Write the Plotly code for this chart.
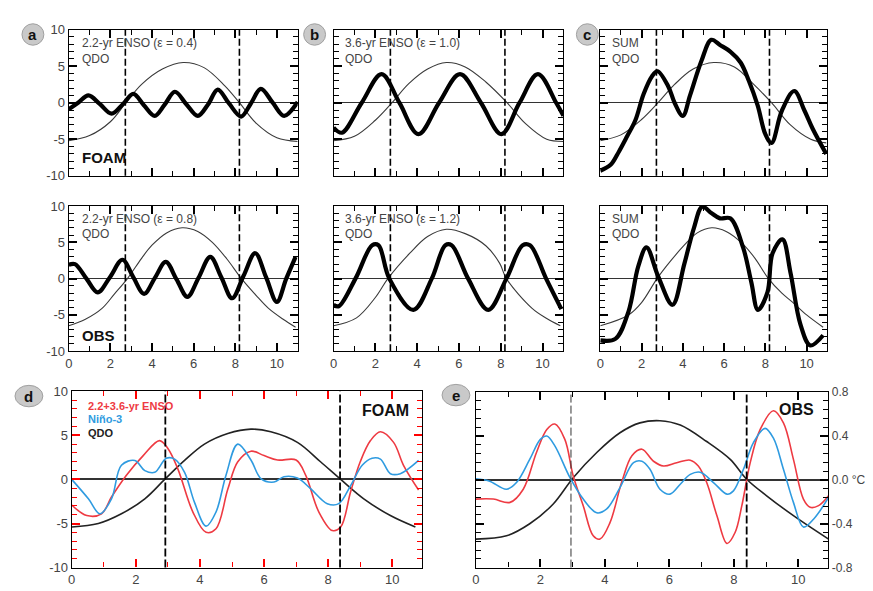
import plotly.graph_objects as go

# ---------------- DATA ----------------
a1_enso_x = [0, 0.45, 0.95, 1.5, 2.06, 2.6, 3.1, 3.6, 4.13, 4.6, 5.1, 5.65, 6.2, 6.7, 7.16, 7.7, 8.28, 8.75, 9.23, 9.8, 10.35, 11.0]
a1_enso_y = [-0.9, 0.0, 1.0, -0.2, -1.5, -0.2, 1.2, -0.3, -1.8, -0.3, 1.5, -0.2, -1.8, -0.2, 1.8, -0.1, -1.9, -0.1, 1.9, 0.0, -1.8, 0.1]
a1_qdo_x = [0, 1, 2, 2.75, 3.5, 4.5, 5.5, 6.5, 7.5, 8.2, 9, 10, 11]
a1_qdo_y = [-5.2, -4.5, -2.6, 0, 2.5, 4.6, 5.5, 4.8, 2.3, 0, -2.8, -4.8, -5.3]

b1_enso_x = [0, 0.4, 1.35, 2.3, 3.15, 4.06, 5.05, 6.05, 7.05, 8.03, 8.9, 9.78, 10.65, 11.0]
b1_enso_y = [-3.4, -4.1, 0, 3.9, 0, -4.3, 0, 3.9, 0, -4.3, 0, 3.9, 0, -1.8]
b1_qdo_x = [0, 1, 2, 2.8, 3.6, 4.5, 5.4, 6.3, 7.3, 8.3, 9.2, 10.2, 11]
b1_qdo_y = [-5.2, -4.6, -2.4, 0, 2.6, 4.6, 5.5, 4.9, 2.8, 0, -2.9, -5.0, -5.3]

c1_sum_x = [0, 0.5, 0.9, 1.3, 1.7, 2.1, 2.5, 2.77, 3.3, 3.6, 4.0, 4.35, 4.9, 5.38, 5.8, 6.3, 6.8, 7.2, 7.63, 8.0, 8.3, 8.8, 9.4, 9.9, 10.3, 10.95]
c1_sum_y = [-9.3, -8.5, -6.7, -4.6, -2.4, 1.2, 3.6, 4.3, 2.2, 0.0, -1.8, 1.0, 5.7, 8.6, 7.9, 7.0, 5.5, 3.0, -0.4, -4.3, -5.5, -1.1, 1.6, -1.1, -3.6, -7.0]
c1_qdo_x = [0, 1, 2, 2.8, 3.6, 4.5, 5.5, 6.5, 7.4, 8.3, 9.2, 10.2, 10.95]
c1_qdo_y = [-5.2, -4.4, -2.3, 0, 2.5, 4.6, 5.5, 4.9, 2.6, 0, -3.0, -5.0, -5.5]

a2_enso_x = [0, 0.3, 0.85, 1.39, 1.98, 2.58, 3.1, 3.62, 4.14, 4.66, 5.18, 5.7, 6.25, 6.8, 7.33, 7.85, 8.4, 8.96, 9.48, 10.0, 10.45, 10.9]
a2_enso_y = [1.9, 2.0, 0, -1.9, 0.2, 2.6, 0.2, -2.1, 0.1, 2.3, -0.1, -2.5, 0.2, 3.0, 0.2, -2.7, 0.4, 3.5, 0.2, -3.2, 0, 3.0]
a2_qdo_x = [0, 0.8, 1.6, 2.2, 2.82, 3.5, 4.0, 4.7, 5.45, 6.2, 6.9, 7.6, 8.3, 9.0, 9.6, 10.3, 10.9]
a2_qdo_y = [-6.5, -5.6, -4.1, -2.1, 0, 2.8, 4.6, 6.3, 7.0, 6.5, 5.0, 2.7, 0, -2.3, -4.1, -5.6, -6.7]

b2_enso_x = [0, 0.25, 1.05, 1.85, 2.15, 2.67, 3.82, 4.7, 5.35, 5.65, 6.44, 7.4, 8.27, 9.05, 9.4, 10.17, 10.9]
b2_enso_y = [-3.6, -3.8, 0, 4.6, 4.6, 0, -4.3, 0, 4.6, 4.6, 0, -4.3, 0, 4.6, 4.6, 0, -4.2]
b2_qdo_x = [0, 1.1, 2.0, 2.6, 3.65, 4.5, 5.4, 6.3, 7.3, 7.95, 8.27, 9.5, 10.2, 10.85]
b2_qdo_y = [-6.5, -5.4, -2.6, 0, 3.5, 5.8, 6.8, 6.2, 4.5, 2.1, 0, -4.1, -5.5, -6.5]

c2_sum_x = [0, 0.73, 1.37, 1.84, 2.24, 2.8, 3.5, 4.07, 4.54, 4.94, 5.4, 5.8, 6.3, 6.92, 7.32, 7.64, 8.1, 8.35, 8.83, 9.22, 9.7, 10.18, 10.8]
c2_sum_y = [-8.5, -8.3, -4.5, 1.7, 4.3, 0.35, -3.6, 2.0, 7.0, 9.9, 9.0, 8.3, 8.3, 4.3, -0.5, -4.3, -1.9, 3.5, 5.4, 0.8, -6.3, -9.2, -7.8]
c2_qdo_x = [0, 1.37, 2.0, 2.75, 3.4, 4.07, 4.7, 5.4, 6.1, 6.9, 7.5, 8.15, 8.8, 9.3, 10.0, 10.8]
c2_qdo_y = [-6.5, -5.0, -3.3, 0, 2.4, 4.6, 6.3, 7.0, 6.5, 4.8, 2.8, 0, -2.0, -3.2, -5.0, -6.7]

d_enso_x = [0, 0.47, 0.93, 1.24, 1.7, 2.23, 2.74, 3.0, 3.31, 3.78, 4.19, 4.5, 4.87, 5.18, 5.59, 6.0, 6.42, 7.0, 7.3, 7.71, 8.13, 8.39, 8.7, 9.0, 9.32, 9.63, 10.04, 10.35, 10.82]
d_enso_y = [-2.9, -4.1, -3.9, -2.0, 0.45, 2.7, 4.4, 3.5, 1.2, -3.7, -6.0, -5.6, -1.1, 2.0, 3.2, 2.7, 2.2, 2.2, 0.45, -3.7, -5.8, -5.4, -1.4, 2.0, 4.4, 5.4, 4.2, 1.6, -1.2]
d_nino_x = [0, 0.52, 0.88, 1.24, 1.55, 1.97, 2.28, 2.59, 2.95, 3.21, 3.52, 3.83, 4.19, 4.5, 4.81, 5.18, 5.59, 5.9, 6.31, 6.62, 7.04, 7.45, 7.97, 8.33, 8.7, 9.06, 9.37, 9.63, 9.94, 10.25, 10.82]
d_nino_y = [0, -2.2, -3.9, -2.2, 1.6, 2.15, 1.0, 0.8, 2.4, 2.3, 0.8, -2.6, -5.3, -3.7, 0.45, 4.0, 2.2, 0.1, -0.3, 0.3, 0.15, -1.05, -2.75, -2.75, -0.7, 1.6, 2.4, 2.3, 0.65, 0.65, 2.15]
d_qdo_x = [0, 0.83, 1.55, 2.28, 2.9, 3.52, 4.14, 4.87, 5.59, 6.21, 7.04, 7.76, 8.39, 9.11, 9.94, 10.72]
d_qdo_y = [-5.4, -5.0, -3.9, -2.2, 0, 2.15, 4.0, 5.2, 5.7, 5.4, 4.2, 2.0, 0, -2.2, -4.1, -5.4]

e_enso_x = [0, 0.54, 1.06, 1.47, 1.88, 2.2, 2.45, 2.76, 3.02, 3.33, 3.64, 3.85, 4.16, 4.52, 4.84, 5.15, 5.51, 5.82, 6.23, 6.65, 6.9, 7.16, 7.48, 7.79, 8.04, 8.25, 8.51, 8.82, 9.23, 9.54, 9.85, 10.16, 10.37, 10.63, 10.94]
e_enso_y = [-0.175, -0.175, -0.205, -0.085, 0.25, 0.46, 0.51, 0.37, 0.036, -0.235, -0.51, -0.54, -0.39, -0.024, 0.22, 0.28, 0.17, 0.127, 0.157, 0.18, 0.127, -0.024, -0.33, -0.58, -0.48, -0.235, 0.157, 0.46, 0.63, 0.52, 0.187, -0.175, -0.25, -0.235, -0.145]
e_nino_x = [0, 0.41, 0.95, 1.26, 1.67, 2.0, 2.2, 2.45, 2.92, 3.33, 3.75, 4.06, 4.47, 4.89, 5.15, 5.4, 5.71, 6.02, 6.34, 6.65, 6.96, 7.37, 7.79, 7.99, 8.3, 8.61, 8.97, 9.23, 9.54, 9.85, 10.16, 10.48, 10.94]
e_nino_y = [0.01, -0.01, -0.085, -0.024, 0.187, 0.37, 0.4, 0.31, 0.02, -0.175, -0.3, -0.265, -0.07, 0.157, 0.17, 0.097, -0.085, -0.13, -0.04, 0.05, 0.07, -0.024, -0.13, -0.1, 0.097, 0.34, 0.47, 0.38, 0.097, -0.205, -0.43, -0.356, -0.16]
e_qdo_x = [0, 0.95, 1.67, 2.4, 3.02, 3.75, 4.47, 5.09, 5.71, 6.34, 7.16, 7.89, 8.4, 9.02, 9.85, 10.94]
e_qdo_y = [-0.54, -0.51, -0.4, -0.22, 0.02, 0.25, 0.43, 0.52, 0.54, 0.5, 0.35, 0.187, 0.006, -0.145, -0.326, -0.54]

top_marks = [2.72, 8.2]
d_marks = [2.92, 8.37]
e_marks = [2.95, 8.4]

y_vals = [-10, -5, 0, 5, 10]
y_text = ["-10", "-5", "0", "5", "10"]
x_vals = [0, 2, 4, 6, 8, 10]
x_text = ["0", "2", "4", "6", "8", "10"]
e_vals = [-0.8, -0.4, 0.0, 0.4, 0.8]
e_text = ["-0.8", "-0.4", "0.0 °C", "0.4", "0.8"]

# ---------------- LAYOUT ----------------
W, H = 873, 591
FONT = "Liberation Sans, Arial, Helvetica, sans-serif"
RED = "#ee3a42"
BLUE = "#2f9be0"


def px_x(p):
    return p / W


def px_y(p):
    return 1 - p / H


fig = go.Figure()

panels = {
    "a1": (57, 287, 15, 165),
    "b1": (323, 554, 15, 165),
    "c1": (591, 819, 15, 165),
    "a2": (57, 287, 196, 345),
    "b2": (323, 554, 196, 345),
    "c2": (591, 819, 196, 345),
    "d": (60, 412, 386, 567),
    "e": (466, 820, 387, 567),
}
order = ["a1", "b1", "c1", "a2", "b2", "c2", "d", "e"]
axid = {n: i + 1 for i, n in enumerate(order)}


def ax_names(n):
    i = axid[n]
    s = "" if i == 1 else str(i)
    return "x" + s, "y" + s, "xaxis" + s, "yaxis" + s


def axis_style(tc):
    return dict(showgrid=False, showline=True, linecolor="black", linewidth=1.3,
                mirror="allticks", ticks="inside", ticklen=8, tickwidth=1.5, tickcolor=tc)


layout_axes = {}
for n in order:
    x0, x1, yt, yb = panels[n]
    xr, yr, xk, yk = ax_names(n)
    tc = "red" if n == "d" else "black"
    show_xlab = n in ("a2", "b2", "c2", "d", "e")
    show_ylab = n in ("a1", "a2", "d", "e")
    xrange = [0, 11] if n not in ("d", "e") else [0, 10.93]
    zw = 1.0 if n not in ("d", "e") else 1.6
    layout_axes[xk] = dict(
        domain=[px_x(x0), px_x(x1)], anchor=yr, range=xrange, zeroline=False,
        tickvals=x_vals, ticktext=x_text, showticklabels=show_xlab,
        minor=dict(ticks="inside", dtick=1, ticklen=5, tickwidth=1.4, tickcolor=tc),
        tickfont=dict(family=FONT, size=13, color="#444"),
        **axis_style(tc),
    )
    if n == "e":
        layout_axes[yk] = dict(
            domain=[px_y(yb), px_y(yt)], anchor=xr, range=[-0.8, 0.8], side="right",
            zeroline=True, zerolinecolor="#333", zerolinewidth=zw,
            tickvals=e_vals, ticktext=e_text, showticklabels=True,
            minor=dict(ticks="inside", dtick=0.08, ticklen=5, tickwidth=1.4, tickcolor=tc),
            tickfont=dict(family=FONT, size=12, color="#444"),
            **axis_style(tc),
        )
    else:
        layout_axes[yk] = dict(
            domain=[px_y(yb), px_y(yt)], anchor=xr, range=[-10, 10],
            zeroline=True, zerolinecolor="#333", zerolinewidth=zw,
            tickvals=y_vals, ticktext=y_text, showticklabels=show_ylab,
            minor=dict(ticks="inside", dtick=1, ticklen=5, tickwidth=1.4, tickcolor=tc),
            tickfont=dict(family=FONT, size=13, color="#444"),
            **axis_style(tc),
        )

shapes = []


def vmark(n, xv, width=1.6, color="black", dash="7px,3px"):
    xr, yr, _, _ = ax_names(n)
    shapes.append(dict(type="line", xref=xr, yref=yr + " domain", x0=xv, x1=xv, y0=0, y1=1,
                       line=dict(color=color, width=width, dash=dash), layer="above"))


def add_line(n, x, y, color, width):
    xr, yr, _, _ = ax_names(n)
    fig.add_trace(go.Scatter(x=x, y=y, mode="lines", xaxis=xr, yaxis=yr,
                             line=dict(color=color, width=width, shape="spline", smoothing=1.0),
                             showlegend=False, hoverinfo="skip"))


top_data = {
    "a1": (a1_enso_x, a1_enso_y, a1_qdo_x, a1_qdo_y),
    "b1": (b1_enso_x, b1_enso_y, b1_qdo_x, b1_qdo_y),
    "c1": (c1_sum_x, c1_sum_y, c1_qdo_x, c1_qdo_y),
    "a2": (a2_enso_x, a2_enso_y, a2_qdo_x, a2_qdo_y),
    "b2": (b2_enso_x, b2_enso_y, b2_qdo_x, b2_qdo_y),
    "c2": (c2_sum_x, c2_sum_y, c2_qdo_x, c2_qdo_y),
}
for n, (ex, ey, qx, qy) in top_data.items():
    add_line(n, qx, qy, "#3a3a3a", 1.1)
    add_line(n, ex, ey, "black", 4.2)
    for m in top_marks:
        vmark(n, m)

add_line("d", d_qdo_x, d_qdo_y, "#222", 1.6)
add_line("d", d_enso_x, d_enso_y, RED, 1.6)
add_line("d", d_nino_x, d_nino_y, BLUE, 1.6)
for m in d_marks:
    vmark("d", m, width=1.8, dash="8px,3px")

add_line("e", e_qdo_x, e_qdo_y, "#222", 1.6)
add_line("e", e_enso_x, e_enso_y, RED, 1.6)
add_line("e", e_nino_x, e_nino_y, BLUE, 1.6)
vmark("e", e_marks[0], width=1.0, color="#333", dash="8px,3px")
vmark("e", e_marks[1], width=1.8, dash="8px,3px")

annotations = []


def txt(px, py, s, size=12, color="#444", bold=False, anchor="left"):
    if bold:
        s = "<b>" + s + "</b>"
    annotations.append(dict(x=px_x(px), y=px_y(py), xref="paper", yref="paper", text=s,
                            showarrow=False, xanchor=anchor, yanchor="middle",
                            font=dict(family=FONT, size=size, color=color)))


badges = [("a", 21, 20, 11, 11), ("b", 304, 20, 11, 11), ("c", 578, 20, 11, 11),
          ("d", 17, 391, 14, 11), ("e", 446, 390, 14, 11)]
for letter, cx, cy, rx, ry in badges:
    shapes.append(dict(type="circle", xref="paper", yref="paper",
                       x0=px_x(cx - rx), x1=px_x(cx + rx), y0=px_y(cy + ry), y1=px_y(cy - ry),
                       fillcolor="#c9c9c9", line=dict(color="#a0a0a0", width=1), layer="above"))
    annotations.append(dict(x=px_x(cx), y=px_y(cy), xref="paper", yref="paper",
                            text="<b>" + letter + "</b>", showarrow=False,
                            xanchor="center", yanchor="middle",
                            font=dict(family=FONT, size=15, color="#111")))

txt(68, 29, "2.2-yr ENSO (ε = 0.4)")
txt(68, 45, "QDO")
txt(68, 146, "FOAM", size=15, color="#111", bold=True)
txt(333, 29, "3.6-yr ENSO (ε = 1.0)")
txt(333, 45, "QDO")
txt(601, 29, "SUM")
txt(601, 45, "QDO")
txt(68, 209, "2.2-yr ENSO (ε = 0.8)")
txt(68, 225, "QDO")
txt(68, 329, "OBS", size=15, color="#111", bold=True)
txt(333, 209, "3.6-yr ENSO (ε = 1.2)")
txt(333, 225, "QDO")
txt(601, 209, "SUM")
txt(601, 225, "QDO")
txt(74, 401, "2.2+3.6-yr ENSO", size=11, color=RED, bold=True)
txt(74, 415, "Niño-3", size=11, color=BLUE, bold=True)
txt(74, 429, "QDO", size=11, color="#222", bold=True)
txt(401, 406, "FOAM", size=16, color="#111", bold=True, anchor="right")
txt(808, 405, "OBS", size=16, color="#111", bold=True, anchor="right")

fig.update_layout(
    width=W, height=H, autosize=False,
    margin=dict(l=0, r=0, t=0, b=0),
    paper_bgcolor="white", plot_bgcolor="white",
    shapes=shapes, annotations=annotations,
    showlegend=False,
    **layout_axes,
)

fig.write_html("out.html")
